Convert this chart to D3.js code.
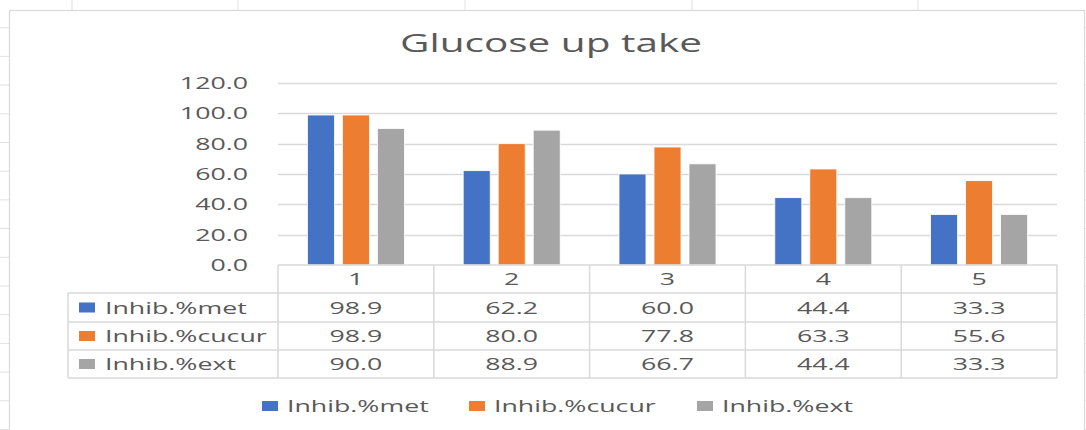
<!DOCTYPE html>
<html>
<head>
<meta charset="utf-8">
<script src="https://cdn.jsdelivr.net/npm/d3@7"></script>
<style>
  body { margin: 0; background: #fff; }
  text { font-family: "Open Sans", sans-serif; fill: #595959; }
</style>
</head>
<body>
<svg id="chart" width="1086" height="430"></svg>
<script>
// data
const categories = ["1", "2", "3", "4", "5"];
const seriesNames = ["Inhib.%met", "Inhib.%cucur", "Inhib.%ext"];
const metValues = [98.9, 62.2, 60.0, 44.4, 33.3];
const cucurValues = [98.9, 80.0, 77.8, 63.3, 55.6];
const extValues = [90.0, 88.9, 66.7, 44.4, 33.3];
const yTicks = [0, 20, 40, 60, 80, 100, 120];

const seriesValues = [metValues, cucurValues, extValues];
const colors = ["#4472C4", "#ED7D31", "#A5A5A5"];

const SX = 1.62; // the picture is stretched sideways
const GRID = "#D9D9D9";

const svg = d3.select("#chart");

// put a text at x,y, stretched horizontally like the reference
function stext(parent, x, y, str, anchor, size) {
    return parent.append("text")
        .attr("transform", `translate(${x},${y}) scale(${SX},1)`)
        .attr("text-anchor", anchor)
        .style("font-size", size + "px")
        .text(str);
}

// spreadsheet cells behind the chart
const sheet = svg.append("g");
sheet.selectAll(".row").data(d3.range(-1, 430, 28.7)).enter().append("line")
    .attr("x1", 0).attr("x2", 1086).attr("y1", d => d).attr("y2", d => d)
    .attr("stroke", "#E1E1E1").attr("stroke-width", 1);
sheet.selectAll(".col").data([72, 238, 465, 692, 918]).enter().append("line")
    .attr("x1", d => d).attr("x2", d => d).attr("y1", 0).attr("y2", 430)
    .attr("stroke", "#E1E1E1").attr("stroke-width", 1);

// chart frame
svg.append("rect")
    .attr("x", 9.5).attr("y", 10.5).attr("width", 1075).attr("height", 440)
    .attr("fill", "#fff").attr("stroke", GRID).attr("stroke-width", 1.2);

// title
stext(svg, 551, 52, "Glucose up take", "middle", 25);

// scales
const x0 = d3.scaleBand().domain(categories).range([278, 1057]);
const groupWidth = 97;
const x1 = d3.scaleBand().domain(seriesNames).range([0, groupWidth]).paddingInner(8 / 35);
const y = d3.scaleLinear().domain([0, 120]).range([265, 83]);

// gridlines
svg.append("g").selectAll("line").data(yTicks.filter(d => d > 0)).enter().append("line")
    .attr("x1", 278).attr("x2", 1057)
    .attr("y1", d => Math.round(y(d)) + 0.5).attr("y2", d => Math.round(y(d)) + 0.5)
    .attr("stroke", GRID).attr("stroke-width", 1.3);

// y tick labels
const yLabels = svg.append("g");
yTicks.forEach(t => stext(yLabels, 248, y(t) + 6, d3.format(".1f")(t), "end", 16.5));

// bars
const offset = (x0.bandwidth() - groupWidth) / 2;
const bars = svg.append("g");
seriesNames.forEach((name, si) => {
    bars.selectAll(`.bar-${si}`)
        .data(seriesValues[si])
        .enter().append("rect")
        .attr("x", (d, i) => x0(categories[i]) + offset + x1(name))
        .attr("y", d => y(d))
        .attr("width", x1.bandwidth())
        .attr("height", d => y(0) - y(d))
        .attr("fill", colors[si])
        .attr("stroke", "#fff").attr("stroke-width", 0.8);
});

// data table
const rowTops = [293, 322, 350, 378];
const table = svg.append("g").attr("stroke", GRID).attr("stroke-width", 1.5);
table.append("line").attr("x1", 278).attr("x2", 1057).attr("y1", 265).attr("y2", 265);
rowTops.forEach(r => table.append("line").attr("x1", 68).attr("x2", 1057).attr("y1", r).attr("y2", r));
table.append("line").attr("x1", 68).attr("x2", 68).attr("y1", 293).attr("y2", 378);
categories.concat(["end"]).forEach((c, i) => {
    const xx = i < categories.length ? x0(c) : x0.range()[1];
    table.append("line").attr("x1", xx).attr("x2", xx).attr("y1", 265).attr("y2", 378);
});

// header row with categories
const cells = svg.append("g");
categories.forEach(c => stext(cells, x0(c) + x0.bandwidth() / 2, 285, c, "middle", 16.5));

// series rows
seriesNames.forEach((name, si) => {
    const top = rowTops[si];
    const mid = (top + rowTops[si + 1]) / 2;
    cells.append("rect")
        .attr("x", 79).attr("y", mid - 5).attr("width", 16).attr("height", 10)
        .attr("fill", colors[si]);
    stext(cells, 105, mid + 6, name, "start", 16.5);
    seriesValues[si].forEach((v, i) => {
        stext(cells, x0(categories[i]) + x0.bandwidth() / 2, mid + 6, d3.format(".1f")(v), "middle", 16.5);
    });
});

// legend
const legendX = [262, 469, 697];
const legend = svg.append("g");
seriesNames.forEach((name, si) => {
    legend.append("rect")
        .attr("x", legendX[si]).attr("y", 401).attr("width", 16).attr("height", 10)
        .attr("fill", colors[si]);
    stext(legend, legendX[si] + 25, 412, name, "start", 16.5);
});
</script>
</body>
</html>
